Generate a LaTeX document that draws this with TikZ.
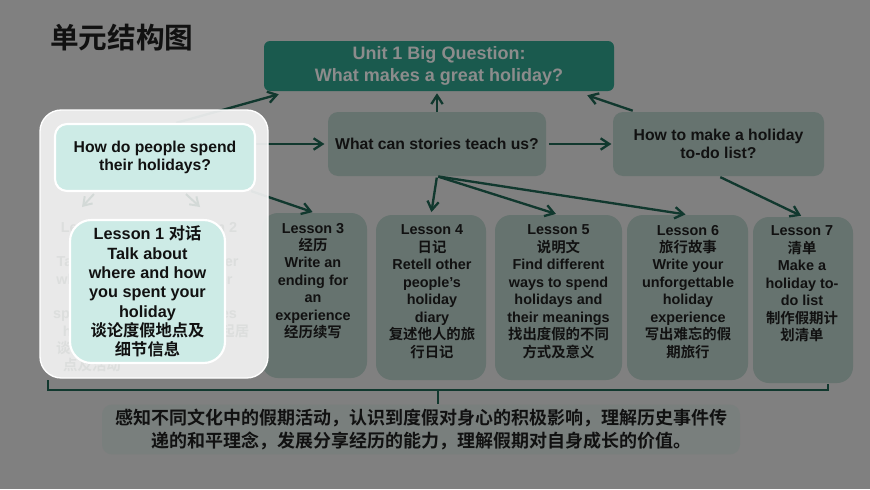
\documentclass[tikz,border=0pt]{standalone}
\usepackage{fontspec}
\setmainfont{Liberation Sans}
\newfontfamily\cjk{Noto Sans CJK SC}[BoldFont={Noto Sans CJK SC Bold}]
\usetikzlibrary{arrows.meta,calc}
\definecolor{bgc}{HTML}{808080}
\definecolor{midc}{HTML}{66736F}
\definecolor{topc}{HTML}{1A5A4E}
\definecolor{toptxt}{HTML}{8C8C8C}
\definecolor{arrc}{HTML}{11382E}
\definecolor{hic}{HTML}{CDEBE6}
\definecolor{ovc}{HTML}{F1F2F2}
\definecolor{ghostc}{HTML}{DCDEDD}
\definecolor{ghostarr}{HTML}{D3D9D7}
\definecolor{botc}{HTML}{797F7D}
\definecolor{txtc}{HTML}{111111}
\newcommand\myfs[2]{\fontsize{#1}{#2}\selectfont}
\pgfdeclarelayer{ovl}
\pgfdeclarelayer{fgl}
\pgfsetlayers{main,ovl,fgl}
\begin{document}
\begin{tikzpicture}[x=0.75pt,y=-0.75pt,
  box/.style={fill=midc, rounded corners=7.5pt, inner sep=0pt},
  lbox/.style={box, rounded corners=12pt, minimum height=123.75pt},
  ltxt/.style={anchor=north, inner sep=0pt, align=center, text=txtc, font=\bfseries\myfs{10.8}{13.1}},
  qtxt/.style={align=center, text=txtc, font=\bfseries\myfs{11.8}{13.75}},
  hibox/.style={fill=hic, draw=white, line width=1.6pt},
  gtxt/.style={anchor=north, inner sep=0pt, align=center, text=ghostc, font=\bfseries\myfs{10.8}{13}},
  arr/.style={draw=arrc, line width=1.75pt, -{Straight Barb[length=6.5pt,width=8.5pt]}},
  garr/.style={draw=ghostarr, line width=1.5pt, -{Straight Barb[length=6pt,width=8pt]}},
  brk/.style={draw=arrc, line width=1.6pt}
]
\useasboundingbox (0,0) rectangle (870,489);
\fill[bgc] (0,0) rectangle (870,489);

% title
\node[anchor=west, inner sep=0pt, text=txtc, font=\cjk\bfseries\myfs{21.5}{24}] (title) at (50,37.5) {单元结构图};

% top question
\node[fill=topc, rounded corners=4.5pt, minimum width=262.5pt, minimum height=37.5pt, align=center,
      text=toptxt, font=\bfseries\myfs{13.5}{16.5}] (top) at (439,66)
  {Unit 1 Big Question:\\What makes a great holiday?};

% middle questions
\node[box, minimum width=163.5pt, minimum height=48pt, qtxt] (stories) at (437,144) {What can stories teach us?};
\node[box, minimum width=158.25pt, minimum height=48pt, qtxt] (howto) at (718.5,144) {How to make a holiday\\to-do list?};

% lesson boxes
\node[lbox, minimum width=78.75pt] (L3) at (314.5,295.5) {};
\node[lbox, minimum width=82.5pt] (L4) at (431,297.5) {};
\node[lbox, minimum width=95.25pt] (L5) at (558.5,297.5) {};
\node[lbox, minimum width=90.75pt] (L6) at (687.5,297.5) {};
\node[lbox, minimum width=75pt, minimum height=124.5pt] (L7) at (803,300) {};

\node[ltxt] (L3t) at ($(L3.north)+(-1.5,10)$) {Lesson 3\\{\cjk 经历}\\Write an\\ending for\\an\\experience\\{\cjk 经历续写}};
\node[ltxt] (L4t) at ($(L4.north)+(1,10)$) {Lesson 4\\{\cjk 日记}\\Retell other\\people’s\\holiday\\diary\\{\cjk 复述他人的旅}\\{\cjk 行日记}};
\node[ltxt] (L5t) at ($(L5.north)+(0,10)$) {Lesson 5\\{\cjk 说明文}\\Find different\\ways to spend\\holidays and\\their meanings\\{\cjk 找出度假的不同}\\{\cjk 方式及意义}};
\node[ltxt] (L6t) at ($(L6.north)+(0.5,10)$) {Lesson 6\\{\cjk 旅行故事}\\Write your\\unforgettable\\holiday\\experience\\{\cjk 写出难忘的假}\\{\cjk 期旅行}};
\node[ltxt] (L7t) at ($(L7.north)+(-1,9)$) {Lesson 7\\{\cjk 清单}\\Make a\\holiday to-\\do list\\{\cjk 制作假期计}\\{\cjk 划清单}};

% bottom summary
\node[fill=botc, rounded corners=7.5pt, minimum width=478.5pt, minimum height=36.75pt, align=center,
      text=txtc, font=\cjk\bfseries\myfs{13.5}{17.25}] (bot) at (421,429.5)
  {感知不同文化中的假期活动，认识到度假对身心的积极影响，理解历史事件传\\递的和平理念，发展分享经历的能力，理解假期对自身成长的价值。};

% highlighted part (foreground)
\begin{pgfonlayer}{fgl}
\node[hibox, rounded corners=9pt, minimum width=150pt, minimum height=50.25pt, qtxt] (q1) at (155,157.5)
  {How do people spend\\their holidays?};
\node[gtxt] (g1t) at (92,222) {Lesson 1\\{\cjk 对话}\\Talk about\\where and\\how to\\spend their\\holidays\\{\cjk 谈论度假地}\\{\cjk 点及活动}};
\node[gtxt] (g2t) at (206,222) {Lesson 2\\{\cjk 阅读}\\the writer\\another\\trip\\activities\\{\cjk 谈论假期起居}};
\coordinate (ga) at (82,207);
\coordinate (gb) at (200,207);
\draw[garr] ($(q1.south west)+(40,2)$) -- (ga);
\draw[garr] ($(q1.south west)+(132,2)$) -- (gb);
\node[hibox, rounded corners=16pt, minimum width=116.25pt, minimum height=107.25pt, align=center,
      text=txtc, font=\bfseries\myfs{12.2}{14.5}] (L1) at (147.5,291.5)
  {Lesson 1 {\cjk 对话}\\Talk about\\where and how\\you spent your\\holiday\\{\cjk 谈论度假地点及}\\{\cjk 细节信息}};
\end{pgfonlayer}

% overlay
\begin{pgfonlayer}{ovl}
\node[fill=ovc, fill opacity=0.93, draw=white, line width=1pt, rounded corners=16pt,
      minimum width=171pt, minimum height=201pt] (ov) at (154,244) {};
\end{pgfonlayer}

% connectors
\draw[arr] ($(q1.north)+(21,0)$) -- ($(top.south west)+(15,3)$);
\draw[arr, shorten >=1.5pt] (stories.north) -- (stories.north |- top.south);
\draw[arr] ($(howto.north west)+(20,-1)$) -- ($(top.south east)+(-27,4)$);
\draw[arr, shorten >=2.5pt] (q1.east |- stories.west) -- (stories.west);
\draw[arr, shorten <=2pt, shorten >=1pt] (stories.east) -- (howto.west);
\draw[arr, shorten >=1.5pt] ($(q1.south east)+(-5,-1)$) -- (L3.north);
\draw[arr, shorten <=1pt, shorten >=2pt] (stories.south) -- (L4.north);
\draw[arr, shorten <=1pt, shorten >=2pt] (stories.south) -- (L5.north);
\draw[arr, shorten <=1pt, shorten >=1.5pt] (stories.south) -- (L6.north);
\draw[arr, shorten <=1.5pt, shorten >=1.5pt] (howto.south) -- (L7.north);

% bracket
\coordinate (bl) at (48,380);
\coordinate (br) at (828,384);
\coordinate (bm) at (438,390);
\draw[brk] (bl) -- (bl |- bm) -- (br |- bm) -- (br);
\draw[brk] (bm) -- (bm |- bot.north);
\end{tikzpicture}
\end{document}
